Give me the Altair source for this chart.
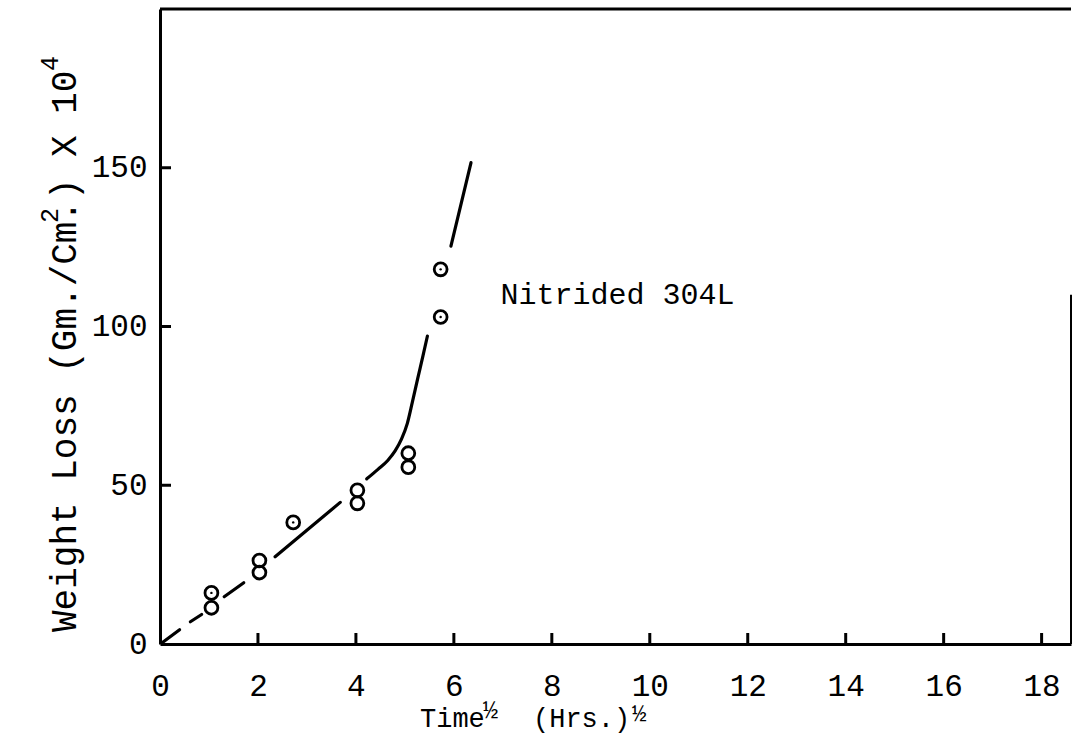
import altair as alt
import pandas as pd

FONT = "Liberation Mono"
WEIGHT = "normal"

# Measured weight loss against square root of time
pt_x = [1.05, 1.05, 2.03, 2.03, 2.72, 4.03, 4.03, 5.07, 5.07, 5.73, 5.73]
pt_y = [16.1, 11.4, 26.3, 22.5, 38.3, 48.4, 44.3, 60.1, 55.7, 118.0, 103.0]
pt_dot = [True, False, False, False, True, False, False, False, False, True, True]

# Hand-drawn trend line, broken into separate strokes
line_x = [0.05, 0.40,
          0.62, 0.85,
          1.31, 1.71,
          2.35, 3.68,
          4.22, 4.45, 4.65, 4.80, 4.93, 5.05, 5.15, 5.26, 5.37, 5.46,
          5.94, 6.35]
line_y = [0.5, 4.5,
          7.0, 9.3,
          14.9, 19.3,
          27.5, 44.6,
          52.0, 55.0, 57.8, 60.8, 64.5, 69.5, 76.0, 83.5, 90.8, 97.0,
          125.3, 151.6]
line_seg = [1, 1,
            2, 2,
            3, 3,
            4, 4,
            5, 5, 5, 5, 5, 5, 5, 5, 5, 5,
            6, 6]

x_ticks = [2, 4, 6, 8, 10, 12, 14, 16, 18]
y_ticks = [50, 100, 150]
x_labels = [0, 2, 4, 6, 8, 10, 12, 14, 16, 18]
y_labels = [0, 50, 100, 150]

note_x = [6.95]
note_y = [110]
note_text = ["Nitrided 304L"]

W, H = 911, 635
X_DOMAIN = [0, 18.6]
Y_DOMAIN = [0, 200]

xscale = alt.Scale(domain=X_DOMAIN, nice=False, zero=False)
yscale = alt.Scale(domain=Y_DOMAIN, nice=False, zero=False)

xaxis = alt.Axis(values=x_labels, ticks=False, grid=False, domain=True,
                 domainColor="black", domainWidth=3, labelFont=FONT,
                 labelFontSize=31, labelFontWeight=WEIGHT, labelColor="black",
                 labelPadding=27, labelFlush=False, labelOverlap=False,
                 title=None, format="d")
yaxis = alt.Axis(values=y_labels, ticks=False, grid=False, domain=True,
                 domainColor="black", domainWidth=3, labelFont=FONT,
                 labelFontSize=31, labelFontWeight=WEIGHT, labelColor="black",
                 labelPadding=13, labelFlush=False, labelOverlap=False,
                 title=None, format="d")


def X(field):
    return alt.X(field, type="quantitative", scale=xscale, axis=xaxis)


def Y(field):
    return alt.Y(field, type="quantitative", scale=yscale, axis=yaxis)


points_df = pd.DataFrame({"x": pt_x, "y": pt_y, "dot": pt_dot})
line_df = pd.DataFrame({"x": line_x, "y": line_y, "seg": line_seg})

circles = alt.Chart(points_df).mark_point(
    shape="circle", filled=False, size=165, strokeWidth=2.8,
    color="black", opacity=1
).encode(x=X("x"), y=Y("y"))

dots = alt.Chart(points_df).transform_filter("datum.dot").mark_point(
    shape="circle", filled=True, size=6, color="black", opacity=1
).encode(x=X("x"), y=Y("y"))

trend = alt.Chart(line_df).mark_line(
    color="black", strokeWidth=3.2, strokeCap="round", interpolate="monotone"
).encode(x=X("x"), y=Y("y"), detail="seg:N", order="x:Q")

xtick_marks = alt.Chart(pd.DataFrame({"v": x_ticks})).mark_rule(
    color="black", strokeWidth=3
).encode(x=X("v"), y=alt.value(H), y2=alt.value(H - 11))

ytick_marks = alt.Chart(pd.DataFrame({"v": y_ticks})).mark_rule(
    color="black", strokeWidth=3
).encode(y=Y("v"), x=alt.value(0), x2=alt.value(11))

top_border = alt.Chart(pd.DataFrame({"v": [0]})).mark_rule(
    color="black", strokeWidth=3
).encode(y=alt.value(0), x=alt.value(0), x2=alt.value(W))

right_border = alt.Chart(pd.DataFrame({"v": [110]})).mark_rule(
    color="black", strokeWidth=2
).encode(x=alt.value(W), y=Y("v"), y2=alt.value(H))

note = alt.Chart(pd.DataFrame({"x": note_x, "y": note_y, "t": note_text})).mark_text(
    font=FONT, fontSize=30, fontWeight=WEIGHT, align="left", baseline="middle",
    color="black"
).encode(x=X("x"), y=Y("y"), text="t:N")

# Vertical axis title, typed in pieces so the exponents sit raised
ytitle_df = pd.DataFrame({
    "t": ["Weight Loss (Gm./Cm", ".", "2", ")", "X 10", "4"],
    "px": [-84, -84, -102, -84, -84, -102],
    "py": [623, 213, 214, 191, 148, 62],
    "fs": [36, 36, 25, 36, 36, 25],
})
ytitle = alt.Chart(ytitle_df).mark_text(
    font=FONT, fontWeight=WEIGHT, angle=270, align="left", baseline="alphabetic",
    color="black"
).encode(
    x=alt.X("px:Q", scale=None, axis=None),
    y=alt.Y("py:Q", scale=None, axis=None),
    size=alt.Size("fs:Q", scale=None, legend=None),
    text="t:N",
)

# Horizontal axis title with raised one-half exponents
xtitle_df = pd.DataFrame({
    "t": ["Time", "½", "(Hrs.)", "½"],
    "px": [260, 323, 373, 472],
    "py": [718, 709, 718, 712],
    "fs": [27, 25, 27, 24],
})
xtitle = alt.Chart(xtitle_df).mark_text(
    font=FONT, fontWeight=WEIGHT, align="left", baseline="alphabetic",
    color="black"
).encode(
    x=alt.X("px:Q", scale=None, axis=None),
    y=alt.Y("py:Q", scale=None, axis=None),
    size=alt.Size("fs:Q", scale=None, legend=None),
    text="t:N",
)

chart = alt.layer(
    circles, dots, trend, xtick_marks, ytick_marks, top_border, right_border,
    note, ytitle, xtitle
).properties(
    width=W, height=H,
    autosize=alt.AutoSizeParams(type="none"),
    padding={"left": 160, "top": 9, "right": 1, "bottom": 100},
    background="white",
).configure_view(stroke=None)

chart.save("out.html", embed_options={"renderer": "svg", "actions": False})
